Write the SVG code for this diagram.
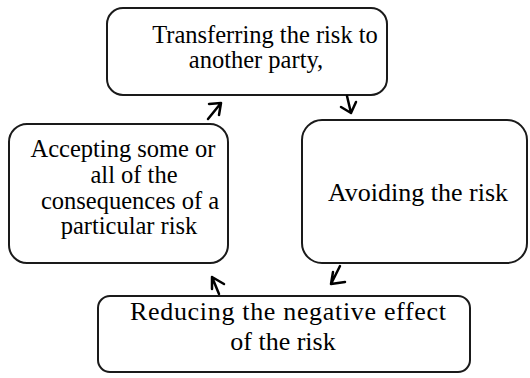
<svg xmlns="http://www.w3.org/2000/svg" width="530" height="378" viewBox="0 0 530 378">
<style>
.box{fill:#fff;stroke:#1a1a1a;stroke-width:2}
.t{font-family:"Liberation Serif","Times New Roman",serif;font-size:24.5px;fill:#000;text-anchor:middle}
.b{font-size:26px}
.a{fill:none;stroke:#000;stroke-width:2.5;stroke-linecap:round;stroke-linejoin:round}
</style>
<rect width="530" height="378" fill="#fff"/>
<g id="top">
<rect class="box" x="107" y="8" width="280" height="87" rx="16"/>
<text class="t" x="265" y="43">Transferring the risk to</text>
<text class="t" x="256" y="68">another party,</text>
</g>
<g id="right">
<rect class="box" x="302" y="120" width="225" height="143" rx="20"/>
<text class="t" x="418" y="201" style="font-size:26px">Avoiding the risk</text>
</g>
<g id="left">
<rect class="box" x="9" y="124" width="219" height="139" rx="18"/>
<text class="t" x="123" y="157">Accepting some or</text>
<text class="t" x="134" y="183">all of the</text>
<text class="t" x="130" y="209">consequences of a</text>
<text class="t" x="129" y="234">particular risk</text>
</g>
<g id="bottom">
<rect class="box" x="98" y="296" width="372" height="76" rx="12"/>
<text class="t b" x="288" y="320" textLength="316" lengthAdjust="spacing">Reducing the negative effect</text>
<text class="t b" x="283" y="350">of the risk</text>
</g>
<g id="connectors">
<path class="a" d="M208 119 L221 103 M209 104 L221 103 L219 115"/>
<path class="a" d="M347 96 L351 113 M341 107 L351 113 L356 102"/>
<path class="a" d="M340 266 L331 284 M333 272 L331 284 L345 282"/>
<path class="a" d="M219 294 L212 277 M212 277 L212 289 M212 277 L224 284"/>
</g>
</svg>
